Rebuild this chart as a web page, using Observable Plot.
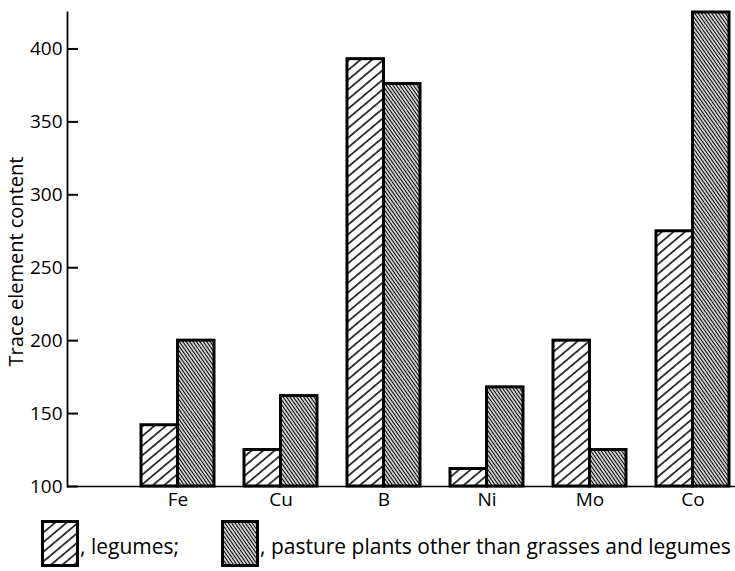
<!DOCTYPE html>
<html>
<head>
<meta charset="utf-8">
<script src="https://cdn.jsdelivr.net/npm/d3@7"></script>
<script src="https://cdn.jsdelivr.net/npm/@observablehq/plot@0.6"></script>
<style>
  html, body { margin: 0; padding: 0; background: #fff; }
  body { width: 735px; height: 571px; overflow: hidden; font-family: "Open Sans", Lato, sans-serif; color: #000; }
  #legend { position: relative; width: 735px; height: 56px; }
  #legend .sw { position: absolute; top: 5px; width: 38px; height: 47px; }
  #legend .lab { position: absolute; top: 19px; font-size: 21px; line-height: 24px; white-space: nowrap; }
</style>
</head>
<body>
<svg width="0" height="0" style="position:absolute">
  <defs>
    <pattern id="hatchLegumes" patternUnits="userSpaceOnUse" width="7.4" height="7.4" patternTransform="rotate(50)">
      <rect width="7.4" height="7.4" fill="white"/>
      <line x1="3.7" y1="0" x2="3.7" y2="7.4" stroke="black" stroke-width="1.5"/>
    </pattern>
    <pattern id="hatchPasture" patternUnits="userSpaceOnUse" width="2.8" height="2.8" patternTransform="rotate(-35)">
      <rect width="2.8" height="2.8" fill="white"/>
      <line x1="1.4" y1="0" x2="1.4" y2="2.8" stroke="black" stroke-width="1.3"/>
    </pattern>
  </defs>
</svg>
<div id="chart"></div>
<div id="legend"></div>
<script>
// ---- data ----
const elements = ["Fe", "Cu", "B", "Ni", "Mo", "Co"];
const legumes = [142, 125, 393, 112, 200, 275];
const pasture = [200, 162, 376, 168, 125, 425];
const yTicks = [100, 150, 200, 250, 300, 350, 400];
const seriesLabels = [", legumes;", ", pasture plants other than grasses and legumes"];
const yLabel = "Trace element content";

const data = elements.map((e, i) => ({element: e, legumes: legumes[i], pasture: pasture[i]}));

// ---- layout ----
const W = 735, H = 515, mL = 67, mR = 0, mT = 12, mB = 29;
const tickLen = 11;
const xOpts = {domain: elements, paddingInner: 0.291, paddingOuter: 0.388, align: 0.925};
const bw = d3.scaleBand(elements, [mL, W - mR])
  .paddingInner(xOpts.paddingInner).paddingOuter(xOpts.paddingOuter).align(xOpts.align)
  .bandwidth();

const font = "'Open Sans', Lato, sans-serif";
const chart = Plot.plot({
  width: W, height: H,
  marginLeft: mL, marginRight: mR, marginTop: mT, marginBottom: mB,
  style: {fontFamily: font, fontSize: "19px", color: "black", background: "white", overflow: "visible"},
  x: {...xOpts, axis: null},
  y: {domain: [100, 425], axis: null},
  marks: [
    Plot.ruleY([100], {stroke: "black", strokeWidth: 1.5}),
    Plot.frame({anchor: "left", stroke: "black", strokeWidth: 1.8}),
    Plot.barY(data, {x: "element", y1: 100, y2: "legumes", insetRight: bw / 2,
      fill: "url(#hatchLegumes)", stroke: "black", strokeWidth: 3}),
    Plot.barY(data, {x: "element", y1: 100, y2: "pasture", insetLeft: bw / 2,
      fill: "url(#hatchPasture)", stroke: "black", strokeWidth: 3}),
    Plot.axisY({ticks: yTicks, anchor: "left", tickSize: 0, tickPadding: 5, fontSize: 19, label: null}),
    // inward tick marks on the y axis
    Plot.tickY(yTicks, {y: d => d, stroke: "black", strokeWidth: 2, insetRight: W - mL - mR - tickLen}),
    Plot.text([yLabel], {text: d => d, frameAnchor: "left", textAnchor: "middle", rotate: -90,
      dx: -51, dy: 12, fontSize: 20}),
    Plot.axisX({tickSize: 0, tickPadding: 6, fontSize: 19, label: null})
  ]
});
document.getElementById("chart").appendChild(chart);

// ---- legend ----
const legend = d3.select("#legend");
const swX = [41, 221], labX = [80, 260], pats = ["hatchLegumes", "hatchPasture"];
seriesLabels.forEach((lab, i) => {
  const s = legend.append("svg").attr("class", "sw").style("left", swX[i] + "px")
    .attr("width", 38).attr("height", 47);
  s.append("rect").attr("x", 1.5).attr("y", 1.5).attr("width", 35).attr("height", 44)
    .attr("fill", `url(#${pats[i]})`).attr("stroke", "black").attr("stroke-width", 3);
  legend.append("div").attr("class", "lab").style("left", labX[i] + "px").text(lab);
});
</script>
</body>
</html>
